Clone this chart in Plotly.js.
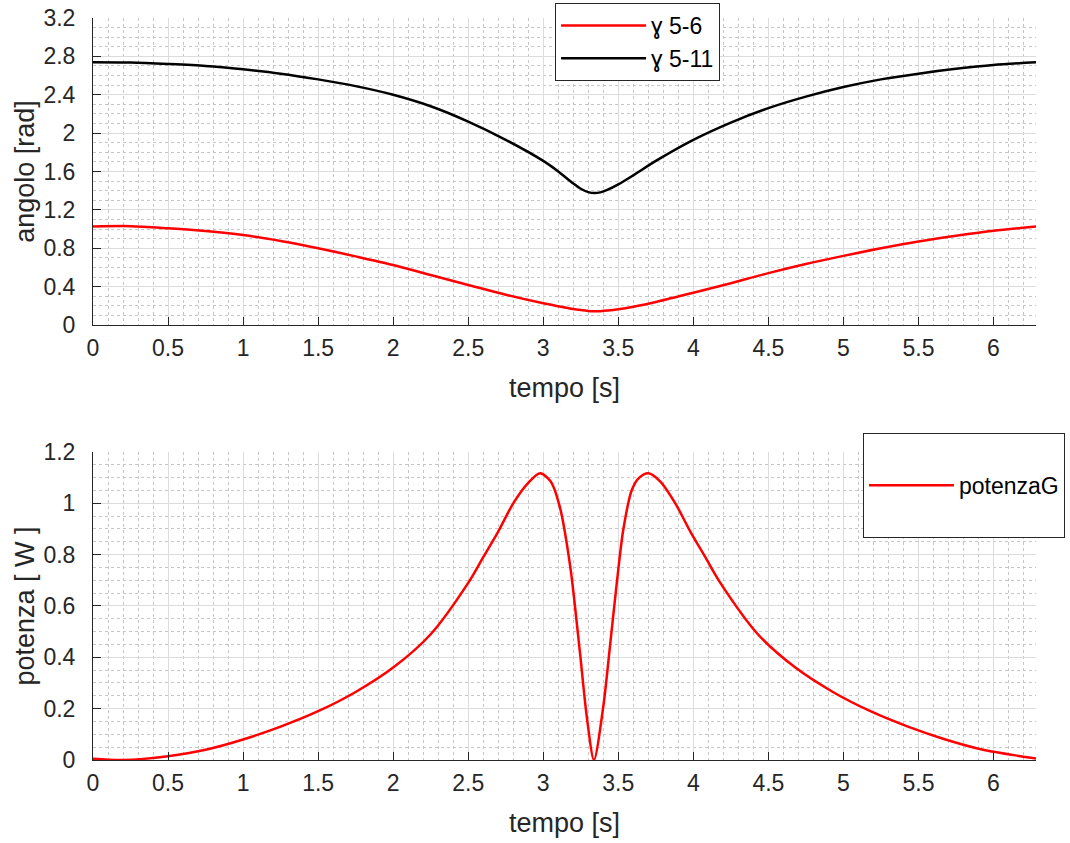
<!DOCTYPE html>
<html>
<head>
<meta charset="utf-8">
<script src="https://cdn.plot.ly/plotly-3.0.1.min.js"></script>
<style>html,body{margin:0;padding:0;background:#fff;}#chart{width:1070px;height:843px;}</style>
</head>
<body>
<div id="chart"></div>
<script>
// ---- data ----
const tTop = [0, 0.25, 0.5, 0.75, 1, 1.25, 1.5, 1.75, 2, 2.25, 2.5, 2.75, 3, 3.1, 3.2, 3.25, 3.3, 3.34, 3.38, 3.43, 3.5, 3.6, 3.75, 4, 4.25, 4.5, 4.75, 5, 5.25, 5.5, 5.75, 6, 6.2832];
const gamma56 = [1.026, 1.03, 1.008, 0.98, 0.938, 0.875, 0.80, 0.715, 0.625, 0.52, 0.417, 0.315, 0.226, 0.195, 0.166, 0.155, 0.146, 0.143, 0.144, 0.150, 0.163, 0.19, 0.24, 0.335, 0.435, 0.54, 0.635, 0.72, 0.80, 0.87, 0.93, 0.983, 1.026];
const gamma511 = [2.738, 2.735, 2.72, 2.70, 2.665, 2.62, 2.56, 2.49, 2.40, 2.28, 2.12, 1.93, 1.71, 1.60, 1.475, 1.42, 1.385, 1.375, 1.382, 1.41, 1.465, 1.56, 1.71, 1.93, 2.11, 2.26, 2.38, 2.48, 2.56, 2.62, 2.67, 2.71, 2.738];

const tPow = [0, 0.2, 0.5, 0.75, 1, 1.25, 1.5, 1.75, 2, 2.25, 2.5, 2.6, 2.7, 2.8, 2.9, 2.98, 3.05, 3.11, 3.18, 3.245, 3.29, 3.338, 3.4, 3.444, 3.49, 3.533, 3.59, 3.64, 3.7, 3.78, 3.88, 3.98, 4.08, 4.18, 4.43, 4.68, 4.93, 5.18, 5.43, 5.68, 5.93, 6.18, 6.2832];
const potenzaG = [0.005, 0.0, 0.015, 0.04, 0.08, 0.13, 0.19, 0.265, 0.36, 0.49, 0.69, 0.79, 0.89, 1.0, 1.08, 1.117, 1.085, 0.987, 0.753, 0.416, 0.169, 0.0, 0.208, 0.44, 0.69, 0.896, 1.052, 1.10, 1.117, 1.085, 1.0, 0.89, 0.79, 0.69, 0.49, 0.36, 0.265, 0.19, 0.13, 0.08, 0.04, 0.015, 0.006];

const xTicks = [0, 0.5, 1, 1.5, 2, 2.5, 3, 3.5, 4, 4.5, 5, 5.5, 6];
const yTopTicks = [0, 0.4, 0.8, 1.2, 1.6, 2, 2.4, 2.8, 3.2];
const yBotTicks = [0, 0.2, 0.4, 0.6, 0.8, 1, 1.2];

const seriesNames = ['\u0263 5-6', '\u0263 5-11', 'potenzaG'];
const xTitle = 'tempo [s]';
const yTopTitle = 'angolo [rad]';
const yBotTitle = 'potenza [ W ]';

// ---- styling ----
const FONT = 'Liberation Sans, Arial, Helvetica, sans-serif';
const AX = '#262626';
const tickFont = {family: FONT, size: 23, color: AX};
const titleFont = {family: FONT, size: 27, color: AX};

function xAxis(anchor) {
  return {
    anchor: anchor, range: [0, 6.2832], tickvals: xTicks, ticks: 'inside', ticklen: 8,
    tickcolor: AX, showline: true, linecolor: AX, linewidth: 1, mirror: false,
    showgrid: true, gridcolor: '#dcdcdc', gridwidth: 1, zeroline: false,
    minor: {dtick: 0.1, tick0: 0, showgrid: true, gridcolor: '#c6c6c6', griddash: 'dot', gridwidth: 1, ticks: ''},
    tickfont: tickFont, ticklabelstandoff: 2,
    title: {text: xTitle, font: titleFont, standoff: 18}
  };
}
function yAxis(anchor, domain, range, ticks, minorDt, title) {
  return {
    anchor: anchor, domain: domain, range: range, tickvals: ticks, ticks: 'inside', ticklen: 8,
    tickcolor: AX, showline: true, linecolor: AX, linewidth: 1,
    showgrid: true, gridcolor: '#dcdcdc', gridwidth: 1, zeroline: false,
    minor: {dtick: minorDt, tick0: 0, showgrid: true, gridcolor: '#c6c6c6', griddash: 'dot', gridwidth: 1, ticks: ''},
    tickfont: tickFont, ticklabelstandoff: 12,
    title: {text: title, font: titleFont, standoff: 0}
  };
}

const traces = [
  {x: tTop, y: gamma56, name: seriesNames[0], type: 'scatter', mode: 'lines', xaxis: 'x', yaxis: 'y',
   line: {color: '#ff0000', width: 2.5, shape: 'spline', smoothing: 0.8}, legend: 'legend'},
  {x: tTop, y: gamma511, name: seriesNames[1], type: 'scatter', mode: 'lines', xaxis: 'x', yaxis: 'y',
   line: {color: '#000000', width: 2.5, shape: 'spline', smoothing: 0.8}, legend: 'legend'},
  {x: tPow, y: potenzaG, name: ' <br>' + seriesNames[2] + '<br> ', type: 'scatter', mode: 'lines', xaxis: 'x2', yaxis: 'y2',
   line: {color: '#ff0000', width: 2.5, shape: 'spline', smoothing: 0.8}, legend: 'legend2'}
];

const legendBase = {
  bgcolor: '#ffffff', bordercolor: AX, borderwidth: 1,
  font: {family: FONT, size: 23, color: '#000000'}, itemwidth: 85,
  xanchor: 'left', yanchor: 'top', itemclick: false, itemdoubleclick: false, valign: 'middle'
};

const layout = {
  width: 1070, height: 843,
  margin: {l: 93, r: 34, t: 18, b: 83, autoexpand: false},
  paper_bgcolor: '#ffffff', plot_bgcolor: '#ffffff',
  showlegend: true,
  xaxis: xAxis('y'),
  yaxis: yAxis('x', [0.5863, 1], [0, 3.2], yTopTicks, 0.1, yTopTitle),
  xaxis2: xAxis('y2'),
  yaxis2: yAxis('x2', [0, 0.4151], [0, 1.2], yBotTicks, 0.05, yBotTitle),
  legend: Object.assign({}, legendBase, {x: 0.49, y: 1.0202}),
  legend2: Object.assign({}, legendBase, {x: 0.8165, y: 0.4407})
};

Plotly.newPlot('chart', traces, layout, {staticPlot: true, displayModeBar: false});
</script>
</body>
</html>
